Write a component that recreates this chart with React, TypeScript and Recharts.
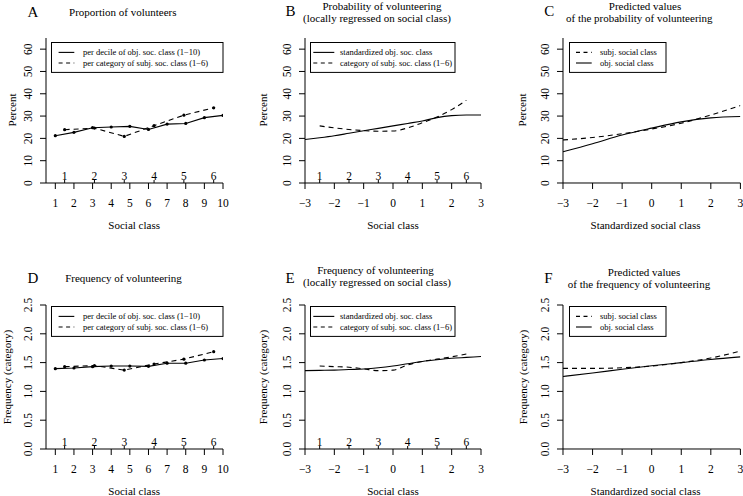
import React from 'react';
import { ComposedChart, Line, Scatter, XAxis, YAxis } from 'recharts';

const FONT = "'Liberation Serif', 'Times New Roman', Times, 'DejaVu Serif', serif";

// panel A / D: per decile (obj.) and per category (subj.)
const deciles = [1, 2, 3, 4, 5, 6, 7, 8, 9, 10];
const subjPosDecile = [1.5, 3.1, 4.7, 6.3, 7.9, 9.5];
const propObj = [21.2, 22.7, 24.8, 25.1, 25.4, 24.0, 26.4, 26.7, 29.3, 30.3];
const propSubj = [23.9, 24.6, 20.9, 25.7, 30.4, 33.7];
const freqObj = [1.395, 1.406, 1.43, 1.44, 1.44, 1.435, 1.49, 1.49, 1.545, 1.57];
const freqSubj = [1.43, 1.447, 1.37, 1.475, 1.56, 1.69];

// panel B / E: loess curves
const smoothX = [-3, -2.5, -2, -1.5, -1, -0.5, 0, 0.5, 1, 1.5, 2, 2.5, 3];
const subjX = [-2.5, -2, -1.5, -1, -0.5, 0, 0.5, 1, 1.5, 2, 2.5];
const subjPosStd = [-2.5, -1.5, -0.5, 0.5, 1.5, 2.5];
const loessPropObj = [19.5, 20.3, 21.2, 22.3, 23.4, 24.5, 25.6, 26.7, 27.8, 29.3, 30.2, 30.5, 30.5];
const loessPropSubj = [25.6, 24.7, 24.0, 23.5, 23.2, 23.3, 24.7, 27.0, 29.6, 32.9, 37.1];
const loessFreqObj = [1.36, 1.365, 1.37, 1.38, 1.39, 1.41, 1.44, 1.48, 1.52, 1.55, 1.575, 1.59, 1.605];
const loessFreqSubj = [1.44, 1.43, 1.42, 1.39, 1.36, 1.37, 1.46, 1.52, 1.56, 1.6, 1.65];

// panel C / F: predicted values
const predX = [-3, -2, -1, 0, 1, 2, 3];
const predPropSubj = [19.3, 20.4, 22.1, 24.2, 26.8, 30.5, 34.7];
const predPropObj = [14.0, 17.6, 21.5, 24.6, 27.4, 29.2, 29.8];
const predFreqSubj = [1.4, 1.4, 1.41, 1.44, 1.5, 1.58, 1.7];
const predFreqObj = [1.26, 1.32, 1.385, 1.445, 1.5, 1.555, 1.6];

const xTicksDecile = [1, 2, 3, 4, 5, 6, 7, 8, 9, 10];
const xTicksStd = [-3, -2, -1, 0, 1, 2, 3];
const yTicksPct = [0, 10, 20, 30, 40, 50, 60];
const yTicksFreq = [0, 0.5, 1, 1.5, 2, 2.5];
const catLabels = ['1', '2', '3', '4', '5', '6'];

const zip = (xs: number[], ys: number[]) => xs.map((x, i) => ({ x, y: ys[i] }));

const minus = (v: number) => String(v).replace('-', '\u2212');

const YTick = ({ x, y, payload, fmt }: any) => (
  <text
    x={x - 6}
    y={y}
    transform={`rotate(-90, ${x - 6}, ${y})`}
    textAnchor="middle"
    fontSize={11.5}
    style={{ fontFamily: FONT }}
    fill="#000"
  >
    {fmt(payload.value)}
  </text>
);

const XTick = ({ x, y, payload }: any) => (
  <text x={x} y={y} dy="0.71em" textAnchor="middle" fontSize={11.5} style={{ fontFamily: FONT }} fill="#000">
    {minus(payload.value)}
  </text>
);

const CatMark = (p: any) => (
  <g>
    <line x1={p.cx} y1={p.cy} x2={p.cx} y2={p.cy - 3} stroke="#000" strokeWidth={1} />
    <text x={p.cx} y={p.cy - 3.5} textAnchor="middle" fontSize={11.5} style={{ fontFamily: FONT }} fill="#000">
      {p.payload.label}
    </text>
  </g>
);

interface Series {
  data: { x: number; y: number }[];
  dashed: boolean;
  dots?: boolean;
}

interface PanelProps {
  left: number;
  top: number;
  w: number;
  h: number;
  xDomain: [number, number];
  xTicks: number[];
  yDomain: [number, number];
  yTicks: number[];
  yFmt: (v: number) => string;
  series: Series[];
  cats?: number[];
}

function Panel({ left, top, w, h, xDomain, xTicks, yDomain, yTicks, yFmt, series, cats }: PanelProps) {
  const yw = 40;
  const mt = 10;
  const xh = 30;
  return (
    <div style={{ position: 'absolute', left: left - yw, top: top - mt }}>
      <ComposedChart width={yw + w + 6} height={mt + h + xh} margin={{ top: mt, right: 6, bottom: 0, left: 0 }}>
        <XAxis
          type="number"
          dataKey="x"
          domain={xDomain}
          ticks={xTicks}
          allowDataOverflow
          height={xh}
          tickSize={6}
          tickMargin={10}
          stroke="#000"
          tick={<XTick />}
          interval={0}
        />
        <YAxis
          type="number"
          dataKey="y"
          domain={yDomain}
          ticks={yTicks}
          allowDataOverflow
          width={yw}
          tickSize={6}
          tickMargin={2}
          stroke="#000"
          tick={<YTick fmt={yFmt} />}
          interval={0}
        />
        {series.map((s, i) => (
          <Line
            key={i}
            data={s.data}
            dataKey="y"
            type={s.dots ? 'linear' : 'monotone'}
            stroke="#000"
            strokeWidth={1.1}
            strokeDasharray={s.dashed ? '5 4' : undefined}
            dot={s.dots ? { r: 1.6, fill: '#000', stroke: 'none' } : false}
            activeDot={false}
            isAnimationActive={false}
          />
        ))}
        {cats && (
          <Scatter
            data={cats.map((x, i) => ({ x, y: 0, label: catLabels[i] }))}
            dataKey="y"
            shape={CatMark}
            isAnimationActive={false}
          />
        )}
      </ComposedChart>
    </div>
  );
}

interface LegendProps {
  left: number;
  top: number;
  width: number;
  x1: number;
  x2: number;
  textX: number;
  items: { label: string; dashed: boolean }[];
}

function BoxLegend({ left, top, width, x1, x2, textX, items }: LegendProps) {
  const height = 30.4;
  return (
    <svg style={{ position: 'absolute', left, top }} width={width + 1} height={height + 1}>
      <rect x={0.5} y={0.5} width={width - 0.5} height={height - 0.5} fill="#fff" stroke="#000" />
      {items.map((it, i) => {
        const y = 10.4 + i * 10.6;
        return (
          <g key={i}>
            <line
              x1={x1 - left}
              x2={x2 - left}
              y1={y}
              y2={y}
              stroke="#000"
              strokeWidth={1.1}
              strokeDasharray={it.dashed ? '4 3.5' : undefined}
            />
            <text x={textX - left} y={y + 3} fontSize={8.5} style={{ fontFamily: FONT }} fill="#000">
              {it.label}
            </text>
          </g>
        );
      })}
    </svg>
  );
}

const T = ({ x, y, size = 11, children, rotate }: any) => (
  <div
    style={{
      position: 'absolute',
      left: x,
      top: y,
      transform: `translate(-50%, -50%)${rotate ? ' rotate(-90deg)' : ''}`,
      fontSize: size,
      fontFamily: FONT,
      whiteSpace: 'nowrap',
      lineHeight: 1,
      color: '#000',
    }}
  >
    {children}
  </div>
);

const pct = (v: number) => String(v);
const fr = (v: number) => v.toFixed(1);

const legObj = [
  { label: 'per decile of obj. soc. class (1\u221210)', dashed: false },
  { label: 'per category of subj. soc. class (1\u22126)', dashed: true },
];
const legLoess = [
  { label: 'standardized obj. soc. class', dashed: false },
  { label: 'category of subj. soc. class (1\u22126)', dashed: true },
];
const legPred = [
  { label: 'subj. social class', dashed: true },
  { label: 'obj. social class', dashed: false },
];

export default function App() {
  const topY = 37.7;
  const botY = 305;
  return (
    <div style={{ position: 'absolute', left: 0, top: 0, width: 743, height: 496, overflow: 'hidden', background: '#fff', fontFamily: FONT }}>
      {/* A */}
      <Panel left={45.7} top={topY} w={177} h={145} xDomain={[0.5, 10]} xTicks={xTicksDecile} yDomain={[0, 65]} yTicks={yTicksPct} yFmt={pct}
        series={[{ data: zip(deciles, propObj), dashed: false, dots: true }, { data: zip(subjPosDecile, propSubj), dashed: true, dots: true }]}
        cats={subjPosDecile} />
      {/* B */}
      <Panel left={305} top={topY} w={176} h={145} xDomain={[-3, 3]} xTicks={xTicksStd} yDomain={[0, 65]} yTicks={yTicksPct} yFmt={pct}
        series={[{ data: zip(smoothX, loessPropObj), dashed: false }, { data: zip(subjX, loessPropSubj), dashed: true }]}
        cats={subjPosStd} />
      {/* C */}
      <Panel left={563.3} top={topY} w={177.4} h={145} xDomain={[-3, 3]} xTicks={xTicksStd} yDomain={[0, 65]} yTicks={yTicksPct} yFmt={pct}
        series={[{ data: zip(predX, predPropSubj), dashed: true }, { data: zip(predX, predPropObj), dashed: false }]} />
      {/* D */}
      <Panel left={45.7} top={botY} w={177} h={144} xDomain={[0.5, 10]} xTicks={xTicksDecile} yDomain={[0, 2.5]} yTicks={yTicksFreq} yFmt={fr}
        series={[{ data: zip(deciles, freqObj), dashed: false, dots: true }, { data: zip(subjPosDecile, freqSubj), dashed: true, dots: true }]}
        cats={subjPosDecile} />
      {/* E */}
      <Panel left={305} top={botY} w={176} h={144} xDomain={[-3, 3]} xTicks={xTicksStd} yDomain={[0, 2.5]} yTicks={yTicksFreq} yFmt={fr}
        series={[{ data: zip(smoothX, loessFreqObj), dashed: false }, { data: zip(subjX, loessFreqSubj), dashed: true }]}
        cats={subjPosStd} />
      {/* F */}
      <Panel left={563.3} top={botY} w={177.4} h={144} xDomain={[-3, 3]} xTicks={xTicksStd} yDomain={[0, 2.5]} yTicks={yTicksFreq} yFmt={fr}
        series={[{ data: zip(predX, predFreqSubj), dashed: true }, { data: zip(predX, predFreqObj), dashed: false }]} />

      <BoxLegend left={50.7} top={42.3} width={172} x1={58.3} x2={74} textX={82.7} items={legObj} />
      <BoxLegend left={310} top={42.3} width={145} x1={313.3} x2={334.3} textX={340} items={legLoess} />
      <BoxLegend left={569} top={42.3} width={97} x1={576} x2={591.7} textX={600} items={legPred} />
      <BoxLegend left={50.7} top={306} width={172} x1={58.3} x2={74} textX={82.7} items={legObj} />
      <BoxLegend left={310} top={306} width={145} x1={313.3} x2={334.3} textX={340} items={legLoess} />
      <BoxLegend left={569} top={306} width={97} x1={576} x2={591.7} textX={600} items={legPred} />

      {/* titles */}
      <T x={33} y={12} size={15}>A</T>
      <T x={122.8} y={12}>Proportion of volunteers</T>
      <T x={290.5} y={11} size={15}>B</T>
      <T x={382} y={5.5}>Probability of volunteering</T>
      <T x={377} y={17.5}>(locally regressed on social class)</T>
      <T x={549.3} y={11} size={15}>C</T>
      <T x={645} y={5.5}>Predicted values</T>
      <T x={639.3} y={17.5}>of the probability of volunteering</T>

      <T x={33} y={277.5} size={15}>D</T>
      <T x={123.5} y={278.3}>Frequency of volunteering</T>
      <T x={290} y={278} size={15}>E</T>
      <T x={375.5} y={270}>Frequency of volunteering</T>
      <T x={377} y={281.5}>(locally regressed on social class)</T>
      <T x={548.3} y={277.5} size={15}>F</T>
      <T x={644} y={271.5}>Predicted values</T>
      <T x={639} y={284}>of the frequency of volunteering</T>

      {/* axis titles */}
      <T x={134.2} y={225}>Social class</T>
      <T x={393} y={225}>Social class</T>
      <T x={645.5} y={225}>Standardized social class</T>
      <T x={134.2} y={491}>Social class</T>
      <T x={393} y={491}>Social class</T>
      <T x={645.5} y={491}>Standardized social class</T>

      <T x={12} y={110} rotate>Percent</T>
      <T x={263.3} y={110} rotate>Percent</T>
      <T x={522.3} y={110} rotate>Percent</T>
      <T x={6.5} y={377} rotate>Frequency (category)</T>
      <T x={263.3} y={377} rotate>Frequency (category)</T>
      <T x={523.3} y={377} rotate>Frequency (category)</T>
    </div>
  );
}
